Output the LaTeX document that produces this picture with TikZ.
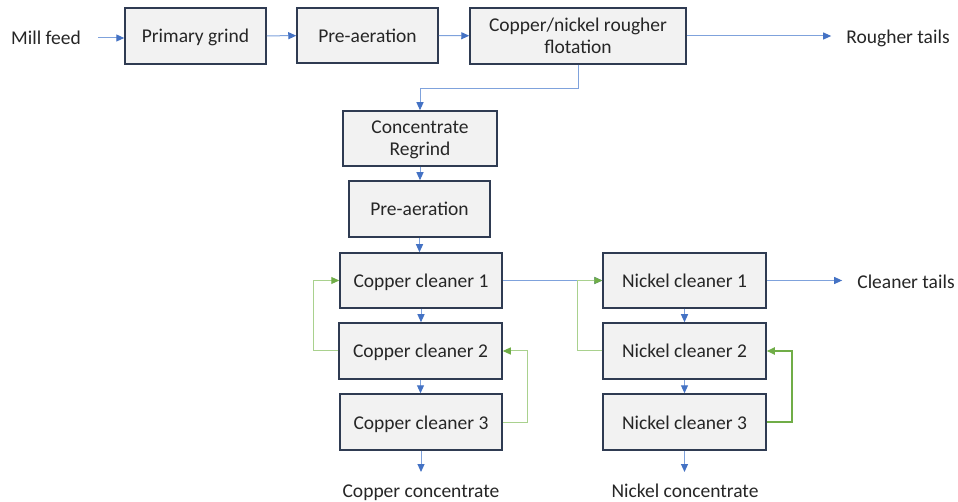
\documentclass[tikz,border=0pt]{standalone}
\usepackage{fontspec}
\setmainfont{Carlito}
\usetikzlibrary{arrows.meta}
\definecolor{boxfill}{HTML}{F2F2F2}
\definecolor{boxline}{HTML}{2F3B52}
\definecolor{flow}{HTML}{7FA2DC}
\definecolor{tip}{HTML}{4472C4}
\definecolor{rec}{HTML}{A9D18E}
\definecolor{recd}{HTML}{70AD47}
\definecolor{txt}{HTML}{262626}
\begin{document}
\begin{tikzpicture}[x=1pt,y=-1pt,
  every node/.style={font=\fontsize{19.5}{22}\selectfont, text=txt},
  proc/.style={draw=boxline, line width=1.5pt, fill=boxfill, align=center, inner sep=2pt},
  one/.style={proc, text height=18pt, text depth=4pt},
  two/.style={proc, text depth=0pt},
  lbl/.style={inner sep=3pt},
  flowline/.style={draw=flow, line width=1pt, -{Triangle[length=8pt,width=7pt,color=tip]}},
  recline/.style={draw=rec, line width=1pt, -{Triangle[length=8pt,width=7pt,color=recd]}},
  recthick/.style={draw=recd, line width=1.8pt, -{Triangle[length=8pt,width=7pt,color=recd]}}]
\useasboundingbox (0,0) rectangle (958,502);
\fill[white] (0,0) rectangle (958,502);

% top row
\node[lbl] (mf) at (46,38) {Mill feed};
\node[one, minimum width=141, minimum height=56] (pg) at (195.5,36) {Primary grind};
\node[one, minimum width=141, minimum height=55] (pa1) at (367.5,35.5) {Pre-aeration};
\node[two, minimum width=216, minimum height=56] (rf) at (578,36) {Copper/nickel rougher\\flotation};
\node[lbl] (rt) at (898,38) {Rougher tails};

% middle column
\node[two, minimum width=154, minimum height=55] (cr) at (420,138.5) {Concentrate\\Regrind};
\node[one, minimum width=141, minimum height=56] (pa2) at (419.5,209) {Pre-aeration};

% copper cleaners
\node[one, minimum width=162, minimum height=55] (cc1) at (421,280.5) {Copper cleaner 1};
\node[one, minimum width=163, minimum height=56] (cc2) at (420.5,351) {Copper cleaner 2};
\node[one, minimum width=162, minimum height=56] (cc3) at (421,422) {Copper cleaner 3};
\node[lbl, anchor=base] (cconc) at (421,497) {Copper concentrate};
\coordinate (cce) at (421,472);

% nickel cleaners
\node[one, minimum width=163, minimum height=55] (nc1) at (684.5,280.5) {Nickel cleaner 1};
\node[one, minimum width=163, minimum height=56] (nc2) at (684.5,351) {Nickel cleaner 2};
\node[one, minimum width=163, minimum height=56] (nc3) at (684.5,422) {Nickel cleaner 3};
\node[lbl, anchor=base] (nconc) at (685,497) {Nickel concentrate};
\coordinate (nce) at (684.5,472);
\node[lbl] (ct) at (906,282) {Cleaner tails};

% main flow
\draw[flowline, shorten <=14pt] (mf) -- (pg.west |- mf);
\draw[flowline] (pg) -- (pa1);
\draw[flowline] (pa1) -- (rf);
\draw[flowline, shorten >=12pt] (rf) -- (rt.west |- rf.east);
\draw[flowline] (rf.south) -- ++(0,24) -| (cr.north);
\draw[flowline] (cr.south) -- (cr.south |- pa2.north);
\draw[flowline] (pa2.south) -- (pa2.south |- cc1.north);
\draw[flowline] (cc1.south) -- (cc1.south |- cc2.north);
\draw[flowline] (cc2.south) -- (cc2.south |- cc3.north);
\draw[flowline] (cc3.south) -- (cce);
\draw[flowline] (cc1) -- (nc1);
\draw[flowline, shorten >=12pt] (nc1) -- (ct.west |- nc1.east);
\draw[flowline] (nc1.south) -- (nc2.north);
\draw[flowline] (nc2.south) -- (nc3.north);
\draw[flowline] (nc3.south) -- (nce);

% recycle loops
\draw[recline] (cc2.west) -- ++(-25,0) |- (cc1.west);
\draw[recline] (cc3.east) -- ++(25,0) |- (cc2.east);
\draw[recline] (nc2.west) -- ++(-25,0) |- (nc1.west);
\draw[recthick] (nc3.east) -- ++(25,0) |- (nc2.east);
\end{tikzpicture}
\end{document}
